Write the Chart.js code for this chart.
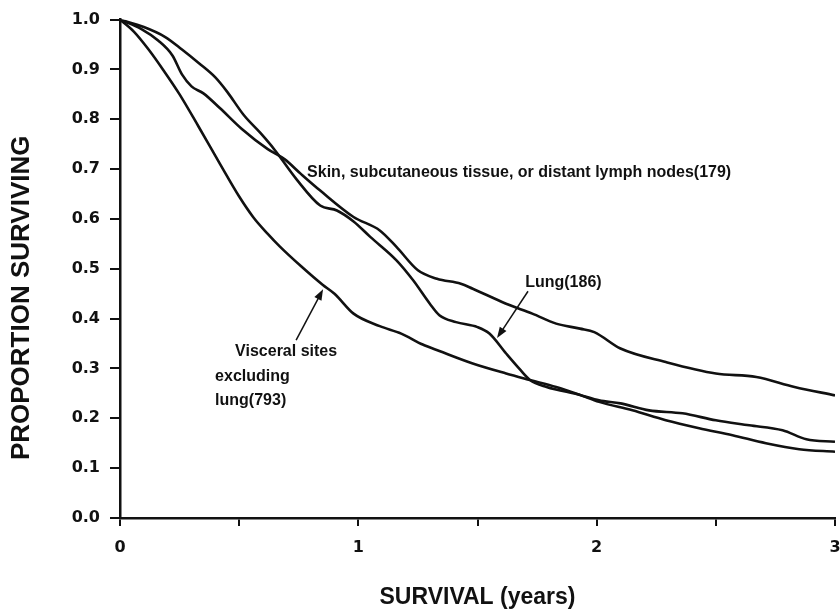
<!DOCTYPE html>
<html lang="en">
  <head>
    <meta charset="UTF-8" />
    <title>Proportion surviving by site of metastasis</title>
    <script src="https://cdn.jsdelivr.net/npm/chart.js"></script>
    <style>
      body {
        margin: 0;
        background-color: #ffffff;
      }
      canvas {
        display: block;
      }
    </style>
  </head>
  <body>
    <canvas id="survivalChart" width="840" height="613"></canvas>

    <script>
      // Skin, subcutaneous tissue, or distant lymph nodes (179)
      const skinYears = [0, 0.09, 0.16, 0.22, 0.26, 0.3, 0.35, 0.42, 0.51, 0.62, 0.69, 0.76, 0.84, 0.98, 1.09, 1.16, 1.25, 1.33, 1.43, 1.48, 1.62, 1.73, 1.83, 1.93, 1.99, 2.1, 2.29, 2.5, 2.67, 2.83, 3.0];
      const skinSurv = [1.0, 0.981, 0.958, 0.928, 0.89, 0.866, 0.852, 0.822, 0.781, 0.74, 0.72, 0.69, 0.657, 0.604, 0.577, 0.544, 0.497, 0.48, 0.47, 0.46, 0.43, 0.41, 0.39, 0.38, 0.373, 0.34, 0.313, 0.29, 0.283, 0.263, 0.246];

      // Lung (186)
      const lungYears = [0, 0.1, 0.19, 0.26, 0.33, 0.4, 0.45, 0.52, 0.59, 0.65, 0.74, 0.84, 0.91, 0.98, 1.05, 1.16, 1.23, 1.3, 1.34, 1.41, 1.5, 1.55, 1.62, 1.68, 1.72, 1.79, 1.93, 2.01, 2.1, 2.22, 2.36, 2.5, 2.64, 2.78, 2.88, 3.0];
      const lungSurv = [1.0, 0.985, 0.965, 0.94, 0.913, 0.884, 0.855, 0.808, 0.772, 0.738, 0.68, 0.627, 0.617, 0.595, 0.564, 0.517, 0.477, 0.43, 0.407, 0.393, 0.383, 0.37, 0.33, 0.297, 0.277, 0.263, 0.247, 0.236, 0.23, 0.216, 0.21, 0.196, 0.186, 0.176, 0.158, 0.153];

      // Visceral sites excluding lung (793)
      const visceralYears = [0, 0.06, 0.12, 0.18, 0.25, 0.33, 0.42, 0.5, 0.56, 0.62, 0.67, 0.76, 0.85, 0.9, 0.98, 1.09, 1.18, 1.27, 1.34, 1.48, 1.62, 1.72, 1.83, 1.93, 2.01, 2.15, 2.29, 2.43, 2.57, 2.71, 2.85, 3.0];
      const visceralSurv = [1.0, 0.975, 0.94, 0.9, 0.85, 0.785, 0.71, 0.645, 0.603, 0.57, 0.545, 0.505, 0.468, 0.45, 0.41, 0.385, 0.37, 0.348, 0.335, 0.31, 0.29, 0.277, 0.263, 0.247, 0.233, 0.216, 0.196, 0.18, 0.166, 0.15, 0.138, 0.133];

      const xTickLabels = ["0", "1", "2", "3"];

      const ink = "#111111";

      // text notes and arrows, placed in data units
      const notes = [
        { text: "Skin, subcutaneous tissue, or distant lymph nodes(179)", x: 0.785, y: 0.693 },
        { text: "Lung(186)", x: 1.7, y: 0.473 },
        { text: "Visceral sites", x: 0.483, y: 0.333 },
        { text: "excluding", x: 0.399, y: 0.283 },
        { text: "lung(793)", x: 0.399, y: 0.236 },
      ];
      const arrows = [
        { from: [0.739, 0.357], to: [0.852, 0.459] },
        { from: [1.712, 0.455], to: [1.582, 0.361] },
      ];

      function toPoints(xs, ys) {
        return xs.map((x, i) => ({ x: x, y: ys[i] }));
      }

      const annotate = {
        id: "annotate",
        afterDatasetsDraw(chart) {
          const { ctx, chartArea } = chart;
          const xs = chart.scales.x;
          const ys = chart.scales.y;
          ctx.save();
          ctx.fillStyle = ink;
          ctx.strokeStyle = ink;
          ctx.font = 'bold 16px "Liberation Sans", Arial, sans-serif';
          ctx.textBaseline = "middle";
          ctx.textAlign = "left";
          notes.forEach((n) => {
            ctx.fillText(n.text, xs.getPixelForValue(n.x), ys.getPixelForValue(n.y));
          });

          ctx.lineWidth = 1.5;
          arrows.forEach((a) => {
            const x0 = xs.getPixelForValue(a.from[0]);
            const y0 = ys.getPixelForValue(a.from[1]);
            const x1 = xs.getPixelForValue(a.to[0]);
            const y1 = ys.getPixelForValue(a.to[1]);
            const ang = Math.atan2(y1 - y0, x1 - x0);
            ctx.beginPath();
            ctx.moveTo(x0, y0);
            ctx.lineTo(x1 - 6 * Math.cos(ang), y1 - 6 * Math.sin(ang));
            ctx.stroke();
            ctx.beginPath();
            ctx.moveTo(x1, y1);
            ctx.lineTo(x1 - 11 * Math.cos(ang) + 4 * Math.sin(ang), y1 - 11 * Math.sin(ang) - 4 * Math.cos(ang));
            ctx.lineTo(x1 - 11 * Math.cos(ang) - 4 * Math.sin(ang), y1 - 11 * Math.sin(ang) + 4 * Math.cos(ang));
            ctx.closePath();
            ctx.fill();
          });

          // y axis title sits a little below the middle of the axis
          ctx.translate(chartArea.left - 98, (chartArea.top + chartArea.bottom) / 2 + 29);
          ctx.rotate(-Math.PI / 2);
          ctx.textAlign = "center";
          ctx.font = 'bold 26px "Liberation Sans", Arial, sans-serif';
          ctx.fillText("PROPORTION SURVIVING", 0, 0);
          ctx.restore();
        },
      };

      const lineStyle = {
        borderColor: ink,
        borderWidth: 2.6,
        pointRadius: 0,
        fill: false,
        cubicInterpolationMode: "monotone",
      };

      const tickFont = { family: "DejaVu Sans", weight: "bold", size: 16 };

      const ctx = document.getElementById("survivalChart").getContext("2d");
      const survivalChart = new Chart(ctx, {
        type: "line",
        data: {
          datasets: [
            { label: "Skin, subcutaneous tissue, or distant lymph nodes(179)", data: toPoints(skinYears, skinSurv), ...lineStyle },
            { label: "Lung(186)", data: toPoints(lungYears, lungSurv), ...lineStyle },
            { label: "Visceral sites excluding lung(793)", data: toPoints(visceralYears, visceralSurv), ...lineStyle },
          ],
        },
        options: {
          responsive: false,
          animation: false,
          layout: { padding: { top: 19, right: 5, left: 0, bottom: 0 } },
          plugins: {
            legend: { display: false },
            tooltip: { enabled: false },
          },
          scales: {
            x: {
              type: "linear",
              min: 0,
              max: 3,
              afterFit: (scale) => {
                scale.height = 95;
                // let the "3" label hang over the right edge like the original
                scale.paddingRight = 0;
                scale.paddingLeft = 0;
              },
              ticks: {
                stepSize: 0.5,
                autoSkip: false,
                maxRotation: 0,
                padding: 12,
                color: ink,
                font: tickFont,
                callback: (v) => (Number.isInteger(v) ? xTickLabels[v] : ""),
              },
              grid: { drawOnChartArea: false, tickLength: 8, color: ink, lineWidth: 2 },
              border: { color: ink, width: 2.5 },
              title: {
                display: true,
                text: "SURVIVAL (years)",
                color: ink,
                font: { family: "Liberation Sans", weight: "bold", size: 23 },
                padding: { top: 0, bottom: 2 },
              },
            },
            y: {
              min: 0,
              max: 1,
              afterFit: (scale) => {
                scale.width = 120;
              },
              ticks: {
                stepSize: 0.1,
                padding: 10,
                color: ink,
                font: tickFont,
                callback: (v) => v.toFixed(1),
              },
              grid: { drawOnChartArea: false, tickLength: 10, color: ink, lineWidth: 2 },
              border: { color: ink, width: 2.5 },
            },
          },
        },
        plugins: [annotate],
      });
    </script>
  </body>
</html>
